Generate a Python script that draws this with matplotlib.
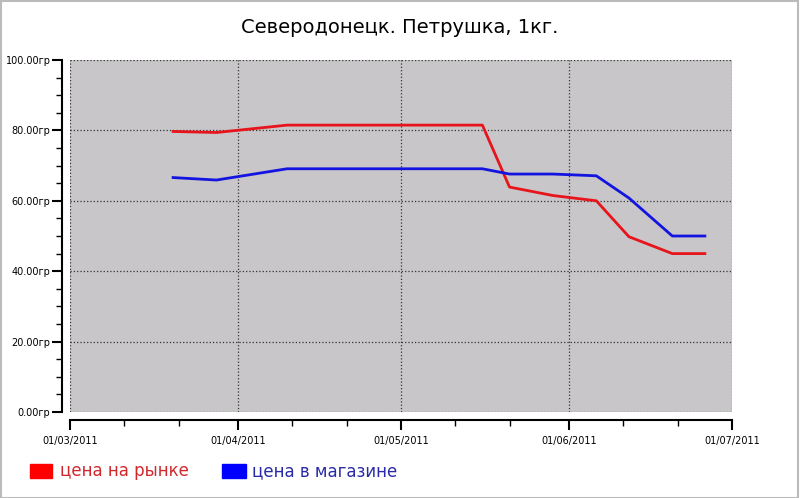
import numpy as np
import matplotlib.pyplot as plt
import matplotlib.dates as mdates
from matplotlib.ticker import MultipleLocator, FuncFormatter
from matplotlib.patches import Rectangle
import datetime as dt

dates = ["2011-03-20", "2011-03-28", "2011-04-10", "2011-04-17", "2011-04-23",
         "2011-04-30", "2011-05-03", "2011-05-08", "2011-05-16", "2011-05-21",
         "2011-05-29", "2011-06-06", "2011-06-12", "2011-06-20", "2011-06-26"]
market = [79.7, 79.4, 81.5, 81.5, 81.5, 81.5, 81.5, 81.5, 81.5, 63.9, 61.5, 60.0, 49.8, 45.0, 45.0]
store = [66.6, 65.9, 69.1, 69.1, 69.1, 69.1, 69.1, 69.1, 69.1, 67.6, 67.6, 67.1, 60.8, 50.0, 50.0]
x = [dt.datetime.strptime(d, "%Y-%m-%d") for d in dates]

fig = plt.figure(figsize=(8, 4.98), dpi=100)
ax = fig.add_axes([70/800, 1-412/498, 662/800, 352/498])
ax.set_facecolor("#c8c6c8")

ax.plot(x, market, color="#e8141c", lw=2)
ax.plot(x, store, color="#1414e0", lw=2)

ax.set_xlim(dt.datetime(2011, 3, 1), dt.datetime(2011, 7, 1))
ax.set_ylim(0, 100)
ax.xaxis.set_major_locator(mdates.MonthLocator())
ax.xaxis.set_major_formatter(mdates.DateFormatter("%d/%m/%Y"))
ax.xaxis.set_minor_locator(mdates.DayLocator(bymonthday=[11, 21]))
ax.yaxis.set_major_locator(MultipleLocator(20))
ax.yaxis.set_minor_locator(MultipleLocator(5))
ax.yaxis.set_major_formatter(FuncFormatter(lambda v, p: f"{v:.2f}гр"))
ax.grid(True, which="major", color="#333333", ls=":", lw=0.9)

for s in ["top", "right"]:
    ax.spines[s].set_visible(False)
ax.spines["left"].set_position(("outward", 6))
ax.spines["bottom"].set_position(("outward", 6))
ax.spines["left"].set_linewidth(1.5)
ax.spines["bottom"].set_linewidth(1.5)
ax.tick_params(which="major", length=7, width=1.5, labelsize=7)
ax.tick_params(which="minor", length=4, width=1)
ax.tick_params(axis="y", pad=1)
ax.tick_params(axis="x", pad=4)

fig.text(0.5, 0.945, "Северодонецк. Петрушка, 1кг.", ha="center", va="center", fontsize=14)

fig.patches.append(Rectangle((30/800, 1-478/498), 22/800, 14/498, color="#ff0000", transform=fig.transFigure))
fig.text(60/800, 1-471/498, "цена на рынке", color="#d0282c", fontsize=12, va="center")
fig.patches.append(Rectangle((222/800, 1-478/498), 24/800, 14/498, color="#0000ff", transform=fig.transFigure))
fig.text(252/800, 1-471/498, "цена в магазине", color="#2a2aa8", fontsize=12, va="center")
fig.patches.append(Rectangle((0.001, 0.001), 0.997, 0.997, fill=False, ec="#bbbbbb", lw=1.5, transform=fig.transFigure))

fig.savefig("out.png", dpi=100)
